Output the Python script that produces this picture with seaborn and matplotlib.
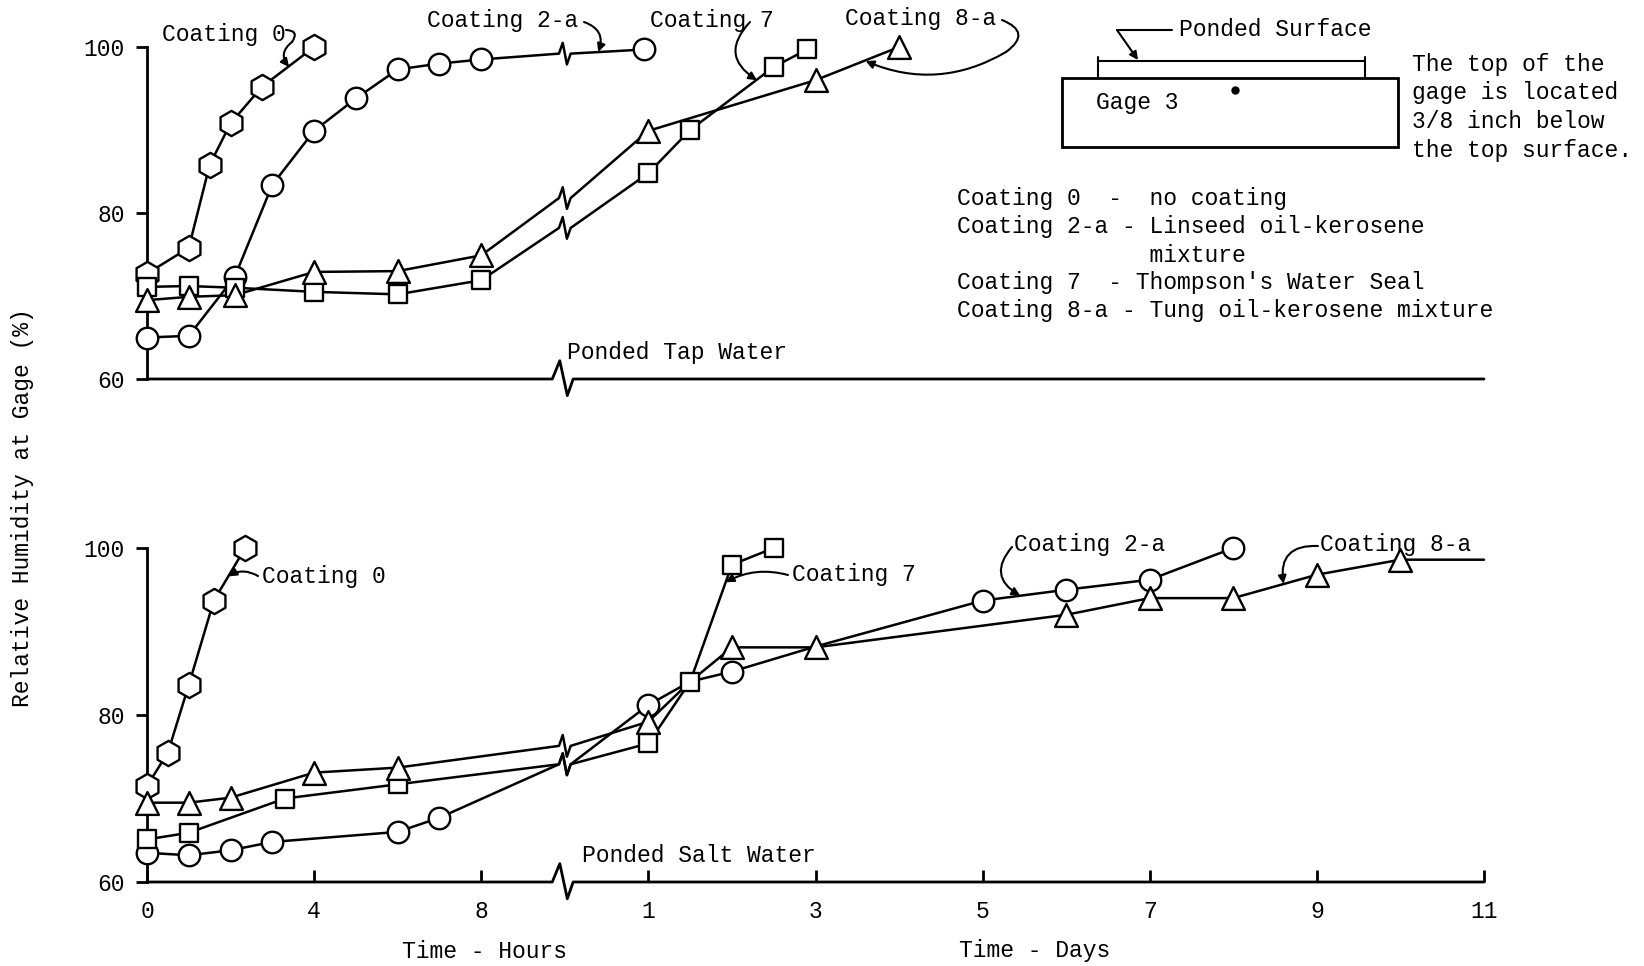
import numpy as np
import pandas as pd
import matplotlib
matplotlib.use("Agg")
import matplotlib.pyplot as plt
from matplotlib.patches import Rectangle
import seaborn as sns

# ---------------- data ----------------
BREAK = 10.0          # axis break position (in hour units)
hour_ticks = [0, 4, 8]
day_ticks = [1, 3, 5, 7, 9, 11]

# Ponded tap water (top panel)
tap_c0_hours = [0, 1, 1.5, 2, 2.75, 4]
tap_c0_rh = [72.7, 75.8, 85.8, 90.8, 95.2, 100.0]

tap_c2a_hours = [0, 1, 2.1, 3, 4, 5, 6, 7, 8]
tap_c2a_rh_h = [65.0, 65.2, 72.3, 83.4, 89.9, 93.8, 97.3, 98.0, 98.5]
tap_c2a_break = 99.2
tap_c2a_days = [0.95]
tap_c2a_rh_d = [99.7]

tap_c7_hours = [0, 1, 2.1, 4, 6, 8]
tap_c7_rh_h = [71.1, 71.2, 71.0, 70.5, 70.2, 71.9]
tap_c7_break = 78.2
tap_c7_days = [1, 1.5, 2.5, 2.9]
tap_c7_rh_d = [84.8, 90.0, 97.6, 99.7]

tap_c8a_hours = [0, 1, 2.1, 4, 6, 8]
tap_c8a_rh_h = [69.5, 69.9, 70.1, 72.9, 73.0, 74.9]
tap_c8a_break = 81.8
tap_c8a_days = [1, 3, 4]
tap_c8a_rh_d = [89.9, 96.0, 100.0]

# Ponded salt water (bottom panel)
salt_c0_hours = [0, 0.5, 1, 1.6, 2.35]
salt_c0_rh = [71.5, 75.5, 83.6, 93.7, 100.0]

salt_c2a_hours = [0, 1, 2, 3, 6, 7]
salt_c2a_rh_h = [63.5, 63.2, 63.8, 64.8, 66.0, 67.7]
salt_c2a_break = 74.1
salt_c2a_days = [1, 1.5, 2, 3, 5, 6, 7, 8]
salt_c2a_rh_d = [81.2, 84.0, 85.2, 88.2, 93.7, 95.0, 96.2, 100.0]
salt_c2a_mark_d = [True, False, True, False, True, True, True, True]

salt_c7_hours = [0, 1, 3.3, 6]
salt_c7_rh_h = [65.1, 65.9, 70.0, 71.7]
salt_c7_break = 74.1
salt_c7_days = [1, 1.5, 2, 2.5]
salt_c7_rh_d = [76.6, 84.0, 98.0, 100.0]

salt_c8a_hours = [0, 1, 2, 4, 6]
salt_c8a_rh_h = [69.5, 69.5, 70.1, 73.1, 73.7]
salt_c8a_break = 76.3
salt_c8a_days = [1, 1.5, 2, 3, 6, 7, 8, 9, 10, 11]
salt_c8a_rh_d = [79.2, 84.0, 88.1, 88.1, 92.0, 94.0, 94.0, 96.8, 98.6, 98.6]
salt_c8a_mark_d = [True, False, True, True, True, True, True, True, True, False]

legend_lines = [
    "Coating 0  -  no coating",
    "Coating 2-a - Linseed oil-kerosene",
    "              mixture",
    "Coating 7  - Thompson's Water Seal",
    "Coating 8-a - Tung oil-kerosene mixture",
]
note_lines = ["The top of the", "gage is located", "3/8 inch below", "the top surface."]

# ---------------- helpers ----------------
def day_pos(d):
    return 12.0 + 2.0 * (np.asarray(d, dtype=float) - 1.0)


def build_line(hours, rh_h, brk=None, days=None, rh_d=None):
    xs = list(np.asarray(hours, dtype=float))
    ys = list(rh_h)
    if brk is not None:
        zx = [BREAK - 0.14, BREAK - 0.05, BREAK + 0.05, BREAK + 0.14]
        zy = [brk, brk + 1.3, brk - 1.3, brk]
        xs += zx
        ys += zy
    if days is not None:
        xs += list(day_pos(days))
        ys += list(rh_d)
    return pd.DataFrame({"x": xs, "y": ys})


def marker_frame(hours, rh_h, days=None, rh_d=None, mark_d=None):
    xs = list(np.asarray(hours, dtype=float))
    ys = list(rh_h)
    if days is not None:
        dp = list(day_pos(days))
        if mark_d is None:
            mark_d = [True] * len(dp)
        for x, y, m in zip(dp, rh_d, mark_d):
            if m:
                xs.append(x)
                ys.append(y)
    return pd.DataFrame({"x": xs, "y": ys})


MARKERS = {"c0": ("h", 330), "c2a": ("o", 240), "c7": ("s", 175), "c8a": ("^", 270)}


def draw_series(ax, key, hours, rh_h, brk=None, days=None, rh_d=None, mark_d=None):
    line = build_line(hours, rh_h, brk, days, rh_d)
    sns.lineplot(data=line, x="x", y="y", sort=False, estimator=None, color="black",
                 lw=1.8, ax=ax, clip_on=False, zorder=2, legend=False)
    mk, s = MARKERS[key]
    pts = marker_frame(hours, rh_h, days, rh_d, mark_d)
    sns.scatterplot(data=pts, x="x", y="y", marker=mk, s=s, color="white",
                    edgecolor="black", linewidth=1.7, ax=ax, zorder=3,
                    clip_on=False, legend=False)


# ---------------- figure ----------------
sns.set_style("white")
plt.rcParams["font.family"] = ["Liberation Mono", "DejaVu Sans Mono"]
FS = 16.6

W, H = 1644, 966
fig = plt.figure(figsize=(W / 100, H / 100), dpi=100)

ax_top = fig.add_axes([147 / W, (H - 379) / H, (1484 - 147) / W, (379 - 47) / H])
ax_bot = fig.add_axes([147 / W, (H - 882) / H, (1484 - 147) / W, (882 - 548) / H])
ov = fig.add_axes([0, 0, 1, 1], zorder=5)
ov.set_xlim(0, W)
ov.set_ylim(H, 0)
ov.axis("off")
ov.patch.set_alpha(0)

for ax in (ax_top, ax_bot):
    ax.set_xlim(0, 32)
    ax.set_ylim(60, 100)
    for sp in ("top", "right", "bottom"):
        ax.spines[sp].set_visible(False)
    ax.spines["left"].set_linewidth(2)
    ax.spines["left"].set_color("black")
    ax.set_yticks([60, 80, 100])
    ax.tick_params(axis="y", direction="out", length=8, width=2, pad=8,
                   labelsize=FS, colors="black", left=True)
    # bottom axis line with break zigzag
    ax.plot([0, 9.7, 9.88, 10.06, 10.2, 32], [0, 0, 0.055, -0.05, 0, 0],
            transform=ax.get_xaxis_transform(), color="black", lw=2, clip_on=False, zorder=2)
    ax.set_facecolor("none")

ax_top.set_xticks([])
ax_bot.set_xticks(list(hour_ticks) + list(day_pos(day_ticks)))
ax_bot.set_xticklabels([str(t) for t in hour_ticks] + [str(t) for t in day_ticks])
ax_bot.tick_params(axis="x", direction="in", length=9, width=2, pad=13,
                   labelsize=FS, colors="black", bottom=True)

# top panel series
draw_series(ax_top, "c0", tap_c0_hours, tap_c0_rh)
draw_series(ax_top, "c2a", tap_c2a_hours, tap_c2a_rh_h, tap_c2a_break, tap_c2a_days, tap_c2a_rh_d)
draw_series(ax_top, "c7", tap_c7_hours, tap_c7_rh_h, tap_c7_break, tap_c7_days, tap_c7_rh_d)
draw_series(ax_top, "c8a", tap_c8a_hours, tap_c8a_rh_h, tap_c8a_break, tap_c8a_days, tap_c8a_rh_d)

# bottom panel series
draw_series(ax_bot, "c0", salt_c0_hours, salt_c0_rh)
draw_series(ax_bot, "c2a", salt_c2a_hours, salt_c2a_rh_h, salt_c2a_break, salt_c2a_days,
            salt_c2a_rh_d, salt_c2a_mark_d)
draw_series(ax_bot, "c7", salt_c7_hours, salt_c7_rh_h, salt_c7_break, salt_c7_days, salt_c7_rh_d)
draw_series(ax_bot, "c8a", salt_c8a_hours, salt_c8a_rh_h, salt_c8a_break, salt_c8a_days,
            salt_c8a_rh_d, salt_c8a_mark_d)
for ax in (ax_top, ax_bot):
    ax.set_xlabel("")
    ax.set_ylabel("")

# ---------------- annotations ----------------
def label(text, x, y, ha="left", va="center"):
    ov.text(x, y, text, fontsize=FS, ha=ha, va=va, color="black")


def curl(ax, xy, start, rad):
    ax.annotate("", xy=xy, xycoords="data", xytext=start, textcoords=ov.transData,
                arrowprops=dict(arrowstyle="-|>", connectionstyle=f"arc3,rad={rad}",
                                lw=1.5, color="black", shrinkA=0, shrinkB=0,
                                mutation_scale=12), annotation_clip=False)


def hook(p0, p1, rad):
    ov.annotate("", xy=p1, xytext=p0,
                arrowprops=dict(arrowstyle="-", connectionstyle=f"arc3,rad={rad}",
                                lw=1.5, color="black", shrinkA=0, shrinkB=0))


label("Coating 0", 162, 35)
hook((286, 30), (292, 42), -0.9)
curl(ax_top, (3.4, 97.6), (292, 42), 0.5)
label("Coating 2-a", 427, 20)
curl(ax_top, (10.8, 99.4), (584, 22), -0.5)
label("Coating 7", 650, 20)
curl(ax_top, (14.6, 96.0), (750, 22), 0.6)
label("Coating 8-a", 845, 18)
hook((1002, 20), (1006, 52), -0.9)
curl(ax_top, (17.2, 98.3), (1006, 52), -0.25)

label("Coating 0", 262, 576)
curl(ax_bot, (1.95, 96.6), (258, 576), 0.3)
label("Coating 7", 792, 575)
curl(ax_bot, (13.85, 95.9), (788, 575), 0.2)
label("Coating 2-a", 1014, 545)
curl(ax_bot, (20.9, 94.3), (1012, 547), 0.6)
label("Coating 8-a", 1320, 544)
curl(ax_bot, (27.2, 95.7), (1318, 546), 0.6)

label("Ponded Tap Water", 567, 353)
label("Ponded Salt Water", 582, 855)

for i, t in enumerate(legend_lines):
    label(t, 957, [199, 226, 255, 282, 310][i])
for i, t in enumerate(note_lines):
    label(t, 1412, [65, 93, 122, 151][i])

# gage diagram
ov.add_patch(Rectangle((1062, 78), 336, 69, fill=False, lw=2, ec="black"))
ov.plot([1098, 1098], [57, 78], color="black", lw=1.5)
ov.plot([1365, 1365], [57, 78], color="black", lw=1.5)
ov.plot([1098, 1365], [61, 61], color="black", lw=1.5)
label("Ponded Surface", 1179, 30)
ov.plot([1172, 1117], [30, 30], color="black", lw=1.5)
ov.annotate("", xy=(1138, 60), xytext=(1117, 30),
            arrowprops=dict(arrowstyle="-|>", lw=1.5, color="black", shrinkA=0, shrinkB=0,
                            mutation_scale=12))
label("Gage 3", 1096, 102)
ov.plot([1235], [90], marker="o", ms=5, color="black")

# axis titles
label("Time - Hours", 484, 951, ha="center")
label("Time - Days", 1035, 951, ha="center")
fig.text(23 / W, 1 - 508 / H, "Relative Humidity at Gage (%)", rotation=90,
         ha="center", va="center", fontsize=FS, color="black")

fig.savefig("out.png", dpi=100, facecolor="white")
